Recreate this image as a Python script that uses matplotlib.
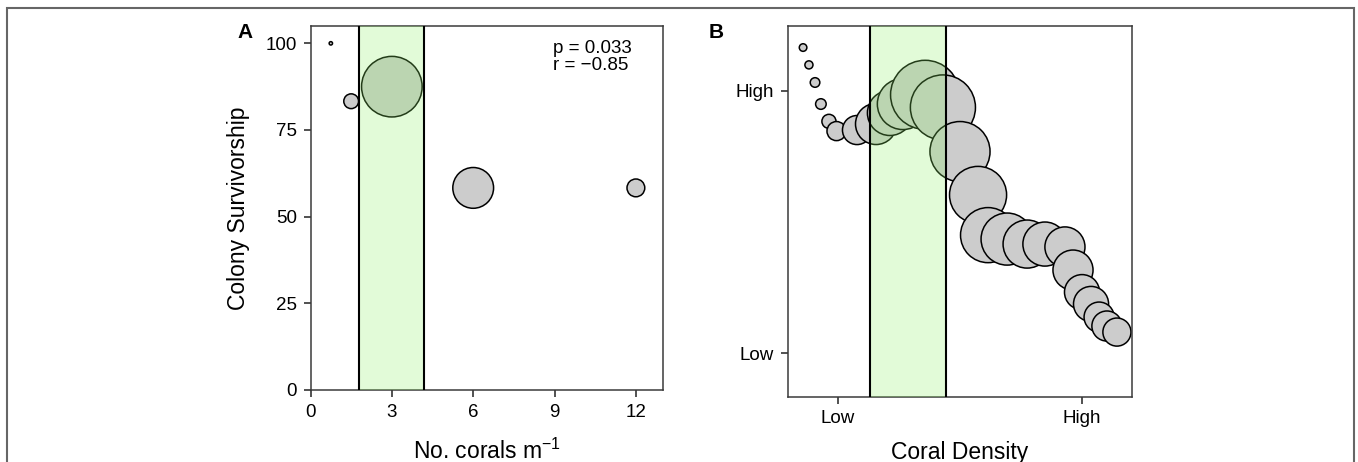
import matplotlib
matplotlib.use("Agg")
import matplotlib.pyplot as plt
from matplotlib.patches import Rectangle

plt.rcParams['font.family'] = ['Liberation Sans', 'DejaVu Sans']
plt.rcParams['mathtext.fontset'] = 'custom'
plt.rcParams['mathtext.rm'] = 'Liberation Sans'
plt.rcParams['mathtext.it'] = 'Liberation Sans:italic'
plt.rcParams['mathtext.bf'] = 'Liberation Sans:bold'

# A: colony survivorship at each planting density
density_a = [0.75, 1.5, 3, 6, 12]
survival_a = [100, 83.3, 87.5, 58.3, 58.3]
weight_a = [0.43, 1.57, 6.15, 4.17, 1.87]
optimum_a = (1.8, 4.2)
stats_text = "p = 0.033\nr = \u22120.85"

# B: conceptual curve, Low = 0 and High = 1 on both axes
density_b = [-0.143, -0.119, -0.094, -0.070, -0.037, -0.006, 0.078, 0.156,
             0.213, 0.266, 0.357, 0.430, 0.500, 0.574, 0.615, 0.693, 0.775,
             0.848, 0.930, 0.963, 1.000, 1.037, 1.070, 1.102, 1.143]
survival_b = [1.164, 1.098, 1.031, 0.949, 0.883, 0.846, 0.850, 0.873,
              0.915, 0.949, 0.984, 0.936, 0.768, 0.603, 0.450, 0.435, 0.416,
              0.416, 0.405, 0.317, 0.233, 0.188, 0.138, 0.104, 0.081]
weight_b = [0.85, 0.9, 1.05, 1.15, 1.5, 2.0, 3.0, 4.2, 4.6, 5.2, 7.0, 6.6,
            6.1, 5.8, 5.6, 5.3, 4.9, 4.5, 4.1, 4.1, 3.6, 3.6, 3.1, 3.1, 2.9]
optimum_b = (0.131, 0.443)

W, H, DPI = 1358, 462, 100
EDGE = 1.1
PX_PER_UNIT = 10.0


def bubble_area(w):
    # weight -> marker area (pt^2); weight is outer diameter in tens of pixels
    d = w * PX_PER_UNIT * 72.0 / DPI - 0.6 * EDGE
    return max(d, 0.5) ** 2


def style_axes(ax):
    for sp in ax.spines.values():
        sp.set_color('#3a3a3a')
        sp.set_linewidth(1.1)
    ax.tick_params(direction='out', length=5.3, width=1.1, color='#222222',
                   labelsize=13.5, pad=4.5)


def draw_band(ax, lo, hi):
    ax.axvspan(lo, hi, facecolor='#8cf064', alpha=0.25, lw=0, zorder=3)
    ax.axvline(lo, color='black', lw=1.5, zorder=4)
    ax.axvline(hi, color='black', lw=1.5, zorder=4)


fig = plt.figure(figsize=(W / DPI, H / DPI), dpi=DPI)

# panel A
ax1 = fig.add_axes([310.5 / W, 1 - 390 / H, 352.5 / W, 364 / H])
ax1.scatter(density_a, survival_a, s=[bubble_area(w) for w in weight_a],
            c='#cccccc', edgecolors='black', linewidths=EDGE, zorder=2,
            clip_on=False)
draw_band(ax1, *optimum_a)
ax1.set_xlim(0, 13)
ax1.set_ylim(0, 105)
ax1.set_xticks([0, 3, 6, 9, 12])
ax1.set_yticks([0, 25, 50, 75, 100])
style_axes(ax1)
ax1.text(0.688, 0.962, stats_text, transform=ax1.transAxes, fontsize=13.5,
         ha='left', va='top', linespacing=1.0)
ax1.set_ylabel('Colony Survivorship', fontsize=16.5)
ax1.yaxis.set_label_coords(-0.172, 0.5)
ax1.set_xlabel('No. corals m$^{-1}$', fontsize=16.5, va='baseline')
ax1.xaxis.set_label_coords(0.5, -0.19)
fig.text(245 / W, 1 - 33 / H, 'A', fontsize=15, fontweight='bold',
         ha='center', va='center')

# panel B
ax2 = fig.add_axes([787.7 / W, 1 - 396.7 / H, 344.6 / W, 370.7 / H])
ax2.scatter(density_b, survival_b, s=[bubble_area(w) for w in weight_b],
            c='#cccccc', edgecolors='black', linewidths=EDGE, zorder=2)
draw_band(ax2, *optimum_b)
ax2.set_xlim(-0.206, 1.206)
ax2.set_ylim(-0.165, 1.246)
ax2.set_xticks([0, 1])
ax2.set_xticklabels(['Low', 'High'])
ax2.set_yticks([0, 1])
ax2.set_yticklabels(['Low', 'High'])
style_axes(ax2)
ax2.set_xlabel('Coral Density', fontsize=16.5, va='baseline')
ax2.xaxis.set_label_coords(0.5, -0.168)
fig.text(716 / W, 1 - 33 / H, 'B', fontsize=15, fontweight='bold',
         ha='center', va='center')

# outer frame, open at the bottom edge
fig.add_artist(Rectangle((7 / W, -0.05), 1347 / W, 1 - 8 / H + 0.05,
                         transform=fig.transFigure, fill=False,
                         edgecolor='#666666', linewidth=1.5))

fig.savefig('out.png', dpi=DPI)
